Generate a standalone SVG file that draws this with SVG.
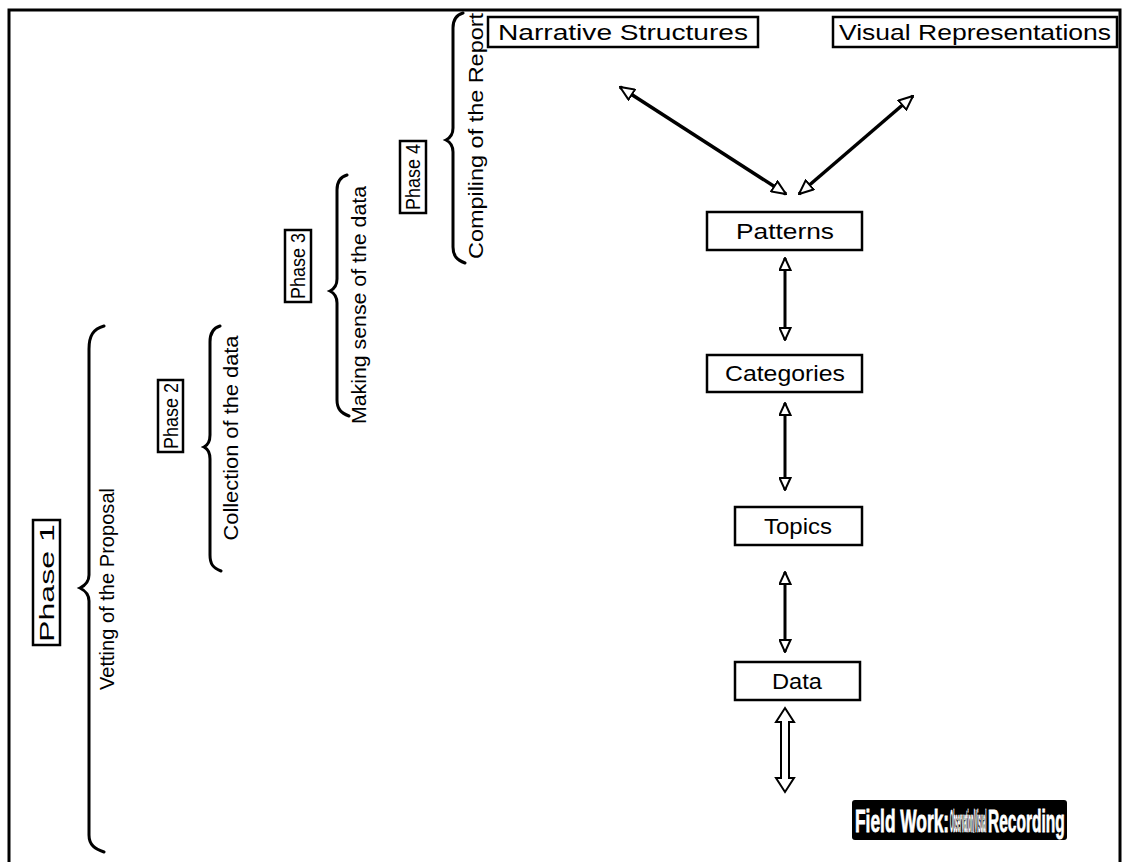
<svg xmlns="http://www.w3.org/2000/svg" width="1128" height="862" viewBox="0 0 1128 862">
<style>
.box{fill:#fff;stroke:#000;stroke-width:2.5}
.t{font-family:"Liberation Sans",Arial,sans-serif;font-size:22px;fill:#000;text-anchor:middle}
.p{font-family:"Liberation Sans",Arial,sans-serif;font-size:21px;fill:#000;text-anchor:middle}
.s{font-family:"Liberation Sans",Arial,sans-serif;font-size:20px;fill:#000;text-anchor:middle}
.fw{font-family:"Liberation Sans",Arial,sans-serif;font-weight:bold;font-size:31px;fill:#fff;stroke:#fff;stroke-width:0.8;text-anchor:start}
.br{fill:none;stroke:#000;stroke-width:3;stroke-linecap:round}
.ln{stroke:#000;stroke-width:3.5;fill:none}
.lv{stroke:#000;stroke-width:3;fill:none}
</style>
<defs>
<marker id="ah" viewBox="0 0 16 14" refX="15" refY="7" markerWidth="16" markerHeight="14" markerUnits="userSpaceOnUse" orient="auto-start-reverse">
<path d="M1,1 L15,7 L1,13 Z" fill="#fff" stroke="#000" stroke-width="2"/>
</marker>
<marker id="av" viewBox="0 0 14 13" refX="13" refY="6.5" markerWidth="14" markerHeight="13" markerUnits="userSpaceOnUse" orient="auto-start-reverse">
<path d="M1,1 L13,6.5 L1,12 Z" fill="#fff" stroke="#000" stroke-width="2"/>
</marker>
</defs>
<rect width="1128" height="862" fill="#fff"/>
<path d="M9,862 L9,10 L1120,10 L1120,862" fill="none" stroke="#000" stroke-width="3"/>

<g id="phase1">
<rect class="box" x="33" y="520" width="27" height="125"/>
<text class="p" transform="translate(54,583) rotate(-90)" textLength="118" lengthAdjust="spacingAndGlyphs">Phase 1</text>
<path class="br" d="M104,326 C93,329 89,336 89,349 L89,575 C89,582 84,586 80,588 C84,590 89,594 89,601 L89,835 C89,845 95,849 104,852"/>
<text class="s" transform="translate(114,589) rotate(-90)" textLength="202" lengthAdjust="spacingAndGlyphs">Vetting of the Proposal</text>
</g>

<g id="phase2">
<rect class="box" x="158" y="380" width="25" height="72"/>
<text class="p" transform="translate(178,416) rotate(-90)" textLength="66" lengthAdjust="spacingAndGlyphs">Phase 2</text>
<path class="br" d="M220,326 C213,328 210,333 210,342 L210,435 C210,442 208,445 204,447 C208,449 210,452 210,459 L210,555 C210,564 213,568 221,571"/>
<text class="s" transform="translate(238,438) rotate(-90)" textLength="205" lengthAdjust="spacingAndGlyphs">Collection of the data</text>
</g>

<g id="phase3">
<rect class="box" x="285" y="230" width="26" height="72"/>
<text class="p" transform="translate(305,266) rotate(-90)" textLength="66" lengthAdjust="spacingAndGlyphs">Phase 3</text>
<path class="br" d="M347,175 C340,177 337,182 337,190 L337,279 C337,286 334,289 330,291 C334,293 337,296 337,303 L337,400 C337,409 341,413 349,416"/>
<text class="s" transform="translate(366,305) rotate(-90)" textLength="238" lengthAdjust="spacingAndGlyphs">Making sense of the data</text>
</g>

<g id="phase4">
<rect class="box" x="400" y="141" width="26" height="72"/>
<text class="p" transform="translate(420,177) rotate(-90)" textLength="66" lengthAdjust="spacingAndGlyphs">Phase 4</text>
<path class="br" d="M463,13 C456,15 453,20 453,28 L453,128 C453,135 450,138 446,140 C450,142 453,145 453,152 L453,247 C453,256 457,260 465,263"/>
<text class="s" transform="translate(483,136) rotate(-90)" textLength="246" lengthAdjust="spacingAndGlyphs">Compiling of the Report</text>
</g>

<g id="narrative">
<rect class="box" x="488" y="17" width="270" height="30"/>
<text class="t" x="623" y="40" textLength="250" lengthAdjust="spacingAndGlyphs">Narrative Structures</text>
</g>

<g id="visual">
<rect class="box" x="833" y="17" width="284" height="30"/>
<text class="t" x="975" y="40" textLength="272" lengthAdjust="spacingAndGlyphs">Visual Representations</text>
</g>

<g id="patterns">
<rect class="box" x="707" y="212" width="155" height="38"/>
<text class="t" x="785" y="239" textLength="98" lengthAdjust="spacingAndGlyphs">Patterns</text>
</g>

<g id="categories">
<rect class="box" x="707" y="355" width="155" height="37"/>
<text class="t" x="785" y="381" textLength="120" lengthAdjust="spacingAndGlyphs">Categories</text>
</g>

<g id="topics">
<rect class="box" x="735" y="507" width="127" height="38"/>
<text class="t" x="798" y="534" textLength="68" lengthAdjust="spacingAndGlyphs">Topics</text>
</g>

<g id="data">
<rect class="box" x="735" y="662" width="125" height="38"/>
<text class="t" x="797" y="689" textLength="50" lengthAdjust="spacingAndGlyphs">Data</text>
</g>

<g id="fieldwork">
<rect x="852" y="800" width="215" height="40" rx="3" fill="#000"/>
<text class="fw" transform="translate(855,832) scale(0.56,1)">Field Work:</text>
<text class="fw" transform="translate(950,832) scale(0.13,1)">Observation/Visual</text>
<text class="fw" transform="translate(988,832) scale(0.5,1)">Recording</text>
</g>

<g id="connectors">
<line class="ln" x1="620" y1="87" x2="786" y2="194" marker-start="url(#ah)" marker-end="url(#ah)"/>
<line class="ln" x1="913" y1="96" x2="799" y2="194" marker-start="url(#ah)" marker-end="url(#ah)"/>
<line class="lv" x1="785" y1="258" x2="785" y2="340" marker-start="url(#av)" marker-end="url(#av)"/>
<line class="lv" x1="785" y1="403" x2="785" y2="490" marker-start="url(#av)" marker-end="url(#av)"/>
<line class="lv" x1="785" y1="572" x2="785" y2="652" marker-start="url(#av)" marker-end="url(#av)"/>
<path d="M785,708 L794,722 L789,722 L789,778 L794,778 L785,792 L776,778 L781,778 L781,722 L776,722 Z" fill="#fff" stroke="#000" stroke-width="2"/>
</g>
</svg>
